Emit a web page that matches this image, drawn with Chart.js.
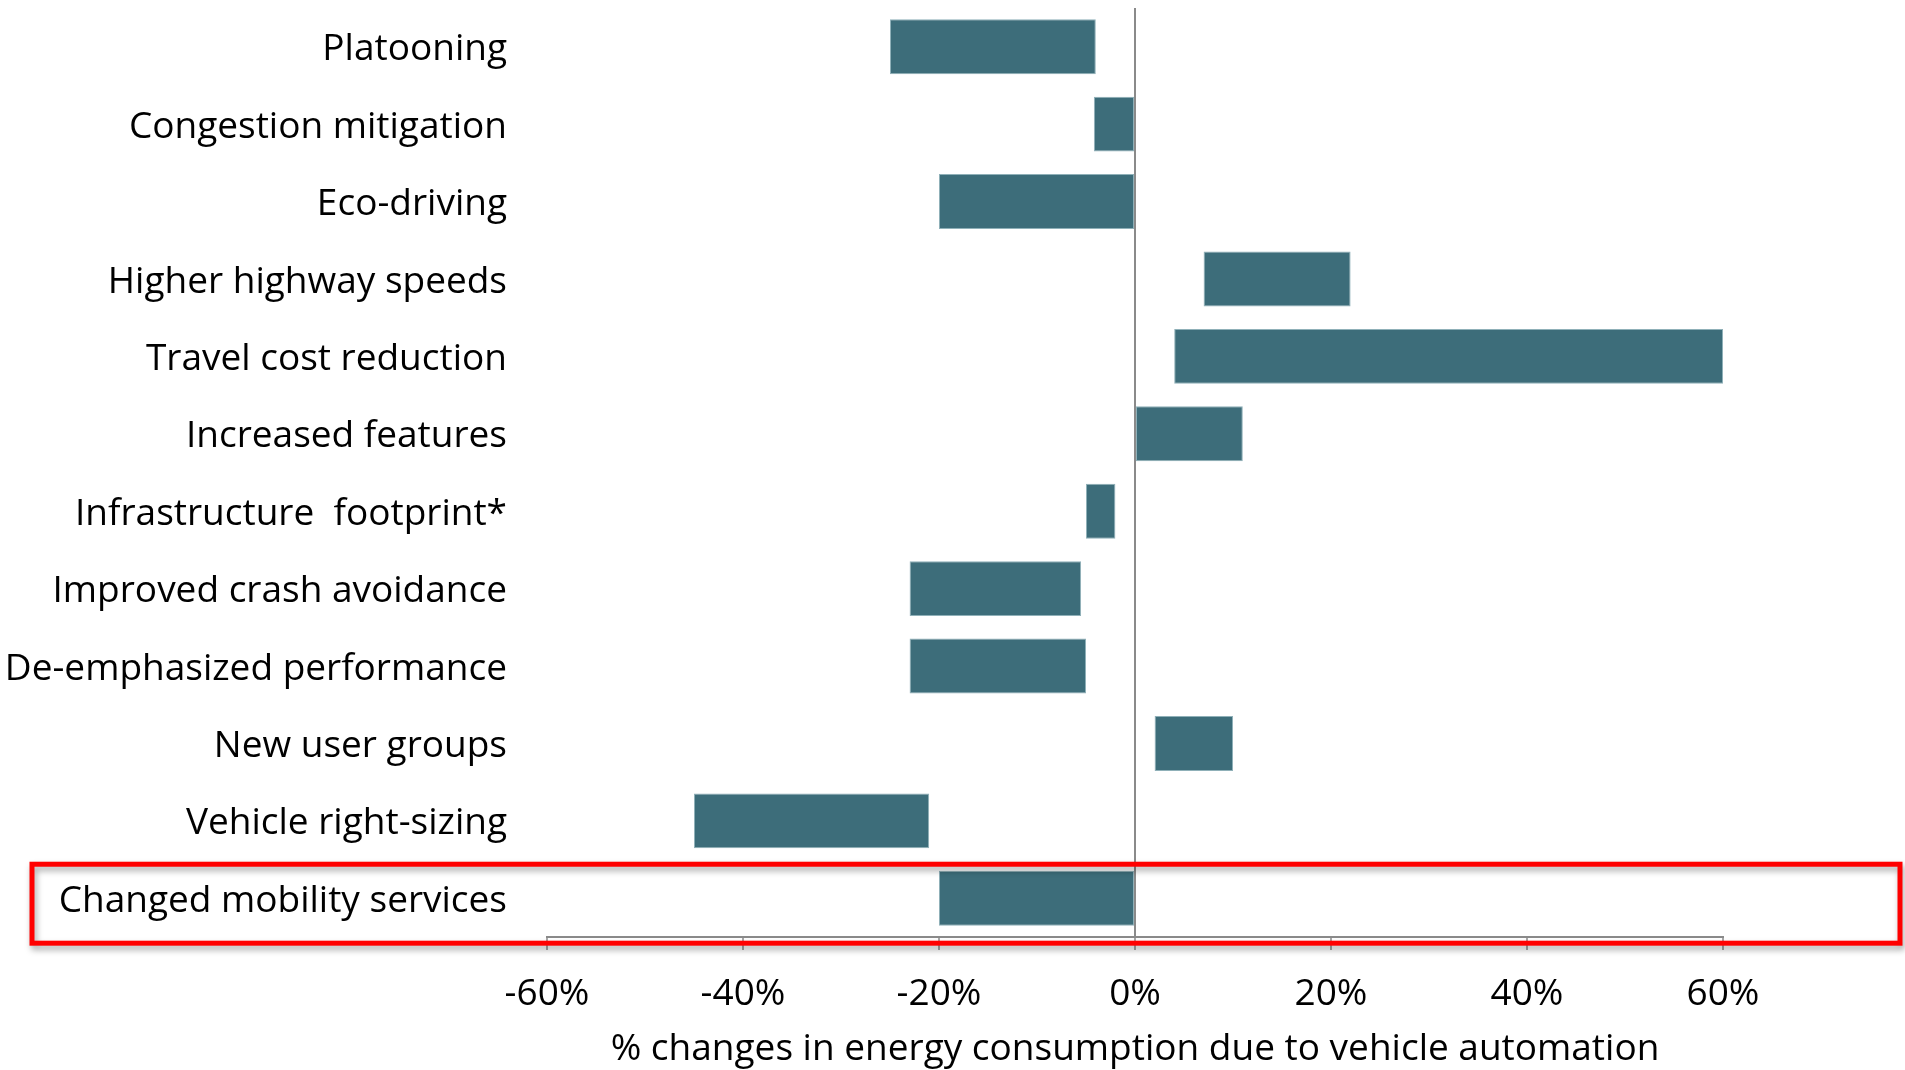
<!DOCTYPE html>
<html lang="en">
  <head>
    <meta charset="UTF-8">
    <title>chart</title>
    <style>
      body { margin: 0; background: #fff; }
      canvas { display: block; }
    </style>
  </head>
  <body>
    <script src="https://cdn.jsdelivr.net/npm/chart.js"></script>
    <canvas id="myChart" width="1905" height="1070"></canvas>
    <script>

// each effect is a range: low and high % change
const categories = [
  'Platooning',
  'Congestion mitigation',
  'Eco-driving',
  'Higher highway speeds',
  'Travel cost reduction',
  'Increased features',
  'Infrastructure  footprint*',
  'Improved crash avoidance',
  'De-emphasized performance',
  'New user groups',
  'Vehicle right-sizing',
  'Changed mobility services'
];
const lowValues  = [-25, -4.2, -20,  7,  4,  0, -5, -23, -23,  2, -45, -20];
const highValues = [ -4,    0,   0, 22, 60, 11, -2, -5.5, -5, 10, -21,   0];
const xTicks = [-60, -40, -20, 0, 20, 40, 60];
const highlighted = 'Changed mobility services';

const barColor = '#3d6d7a';
const axisGray = '#8a8a8a';
const fontFamily = '"Open Sans", "DejaVu Sans", sans-serif';

// red frame around one row, with a soft drop shadow
const highlightBox = {
  id: 'highlightBox',
  afterDraw(chart) {
    const y = chart.scales.y;
    const idx = categories.indexOf(highlighted);
    const py = y.getPixelForValue(idx);
    const rowH = y.getPixelForValue(1) - y.getPixelForValue(0);
    const ctx = chart.ctx;
    ctx.save();
    ctx.strokeStyle = '#ff0000';
    ctx.lineWidth = 5;
    ctx.shadowColor = 'rgba(0,0,0,0.35)';
    ctx.shadowBlur = 6;
    ctx.shadowOffsetX = 2;
    ctx.shadowOffsetY = 4;
    const top = py - 0.44 * rowH;
    const bottom = py + 0.58 * rowH;
    ctx.strokeRect(32, top, 1868, bottom - top);
    ctx.restore();
  }
};

const data = {
  labels: categories,
  datasets: [{
    data: categories.map((c, i) => [lowValues[i], highValues[i]]),
    backgroundColor: barColor,
    borderColor: '#8fb0b8',
    borderWidth: 1,
    borderSkipped: false,
    categoryPercentage: 1,
    barPercentage: 0.71
  }]
};

const config = {
  type: 'bar',
  data,
  options: {
    indexAxis: 'y',
    responsive: false,
    animation: false,
    layout: { padding: { top: 8, right: 182, left: 0, bottom: 0 } },
    plugins: {
      legend: { display: false },
      tooltip: { enabled: false }
    },
    scales: {
      x: {
        min: -60,
        max: 60,
        afterBuildTicks: s => { s.ticks = xTicks.map(v => ({ value: v })); },
        afterFit: s => {
          s.height = 133;
          s.paddingLeft = 0;
          s.paddingRight = 0;
        },
        grid: {
          color: c => (c.tick && c.tick.value === 0 ? axisGray : 'transparent'),
          tickColor: axisGray,
          lineWidth: 2,
          tickLength: 13,
          tickWidth: 1.5
        },
        border: { display: true, color: axisGray, width: 2 },
        ticks: {
          padding: 22,
          color: '#000',
          font: { family: fontFamily, size: 37 },
          callback: v => v + '%'
        },
        title: {
          display: true,
          text: '% changes in energy consumption due to vehicle automation',
          color: '#000',
          font: { family: fontFamily, size: 37 },
          padding: { top: 12, bottom: -2 }
        }
      },
      y: {
        afterFit: s => {
          s.width = 547;
          s.paddingTop = 0;
          s.paddingBottom = 0;
        },
        grid: { display: false },
        border: { display: false },
        ticks: {
          padding: 32,
          labelOffset: 3,
          color: '#000',
          font: { family: fontFamily, size: 37 }
        }
      }
    }
  },
  plugins: [highlightBox]
};

const myChart = new Chart(document.getElementById('myChart'), config);

</script>
  </body>
</html>
